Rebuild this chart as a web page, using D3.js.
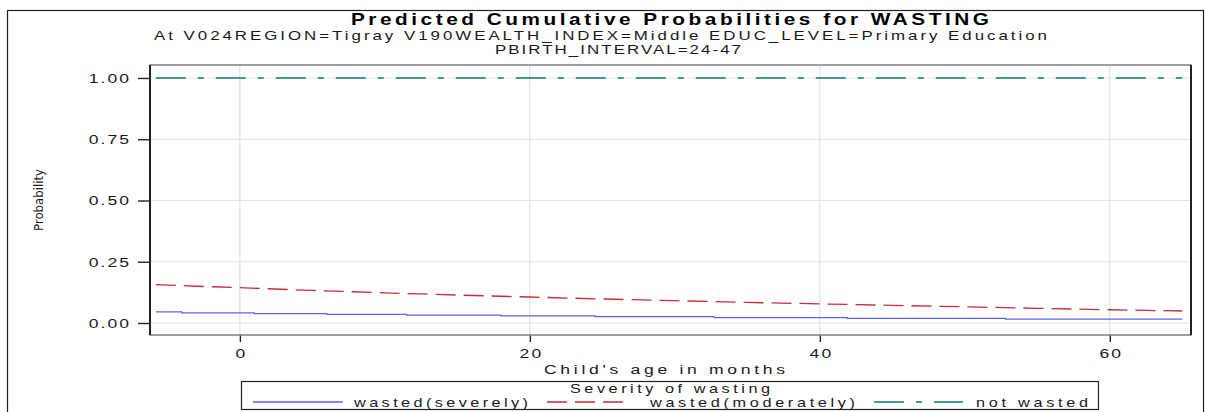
<!DOCTYPE html>
<html>
<head>
<meta charset="utf-8">
<script src="https://cdn.jsdelivr.net/npm/d3@7"></script>
<style>
  html, body { margin: 0; padding: 0; background: #fff; }
  svg { display: block; font-family: "Liberation Sans", Arial, sans-serif; }
</style>
</head>
<body>
<svg id="chart" width="1205" height="412"></svg>
<script>
// data
const ageSevere = [-5.8, -4, 1, 6, 11.5, 18, 24.5, 32.7, 41.9, 52.8, 65];
const probSevere = [0.045, 0.041, 0.038, 0.035, 0.032, 0.029, 0.026, 0.022, 0.019, 0.016, 0.016];

const ageModerate = [-5.8, -3, 0, 5, 10, 15, 20, 25, 30, 35, 40, 45, 50, 55, 60, 65];
const probModerate = [0.157, 0.150, 0.144, 0.133, 0.123, 0.114, 0.106, 0.098, 0.091, 0.084, 0.078, 0.072, 0.066, 0.060, 0.054, 0.049];

const ageNot = [-5.8, 65];
const probNot = [1.0, 1.0];

const xTicks = [0, 20, 40, 60];
const yTicks = [0, 0.25, 0.5, 0.75, 1.0];

const seriesNames = ['wasted(severely)', 'wasted(moderately)', 'not wasted'];
const seriesColors = ['#6262f0', '#cc2a3a', '#0a7f70'];
const seriesDash = [null, '20,8', '30,12,6,12'];

const plot = { left: 150, right: 1191, top: 65, bottom: 335 };
const SX = 1.3; // the SAS font is drawn wider than Arial
const svg = d3.select('#chart');

const x = d3.scaleLinear().domain([-6.2, 65.6]).range([plot.left, plot.right]);
const y = d3.scaleLinear().domain([-0.049, 1.053]).range([plot.bottom, plot.top]);

// text placed from its left edge, widened and stretched to the measured width
function label(px, py, txt, width, size, opts = {}) {
  return svg.append('text')
    .attr('transform', `translate(${px},${py}) scale(${SX},1)`)
    .attr('font-size', size)
    .attr('fill', opts.fill || '#1a1a1a')
    .attr('font-weight', opts.bold ? 'bold' : null)
    .attr('textLength', width / SX)
    .attr('lengthAdjust', 'spacing')
    .text(txt);
}

// outer frame
svg.append('rect')
  .attr('x', 7.5).attr('y', 10.5)
  .attr('width', 1196).attr('height', 420)
  .attr('fill', 'none').attr('stroke', '#222').attr('stroke-width', 1.2);

// titles
label(351, 24.5, 'Predicted Cumulative Probabilities for WASTING', 638, 16, { bold: true, fill: '#000' });
label(154, 40, 'At V024REGION=Tigray V190WEALTH_INDEX=Middle EDUC_LEVEL=Primary Education', 893, 13);
label(495, 53.5, 'PBIRTH_INTERVAL=24-47', 246, 13);

// grid
const grid = svg.append('g');
grid.selectAll('line.gx').data(xTicks).enter().append('line')
  .attr('x1', d => x(d)).attr('x2', d => x(d))
  .attr('y1', plot.top).attr('y2', plot.bottom)
  .attr('stroke', '#dadada').attr('stroke-width', 1);
grid.selectAll('line.gy').data(yTicks).enter().append('line')
  .attr('x1', plot.left).attr('x2', plot.right)
  .attr('y1', d => y(d)).attr('y2', d => y(d))
  .attr('stroke', '#e4e4e4').attr('stroke-width', 1);

// axes
const xAxis = d3.axisBottom(x).tickValues(xTicks).tickSize(7).tickPadding(6).tickFormat(d3.format('d'));
const yAxis = d3.axisLeft(y).tickValues(yTicks).tickSize(12).tickPadding(9).tickFormat(d3.format('.2f'));

const gx = svg.append('g').attr('transform', `translate(0,${plot.bottom})`).call(xAxis);
const gy = svg.append('g').attr('transform', `translate(${plot.left},0)`).call(yAxis);
[gx, gy].forEach(g => {
  g.select('.domain').remove();
  g.selectAll('.tick line').attr('stroke', '#222').attr('stroke-width', 1.4);
  g.selectAll('.tick text')
    .attr('font-family', '"Liberation Sans", Arial, sans-serif')
    .attr('font-size', 13.5).attr('fill', '#1a1a1a').attr('letter-spacing', 1.6)
    .attr('transform', `scale(${SX},1)`);
});
gy.selectAll('.tick text').attr('x', -21 / SX).attr('dx', 1.6);
gx.selectAll('.tick text').attr('dx', 0.8);

// lines
const line = d3.line().x(d => x(d[0])).y(d => y(d[1]));
const stepLine = d3.line().x(d => x(d[0])).y(d => y(d[1])).curve(d3.curveStepAfter);
const g = svg.append('g');

g.append('path')
  .datum(d3.zip(ageNot, probNot))
  .attr('d', line)
  .attr('fill', 'none').attr('stroke', seriesColors[2]).attr('stroke-width', 1.3)
  .attr('stroke-dasharray', seriesDash[2]);

g.append('path')
  .datum(d3.zip(ageModerate, probModerate))
  .attr('d', line)
  .attr('fill', 'none').attr('stroke', seriesColors[1]).attr('stroke-width', 1.3)
  .attr('stroke-dasharray', seriesDash[1]);

g.append('path')
  .datum(d3.zip(ageSevere, probSevere))
  .attr('d', stepLine)
  .attr('fill', 'none').attr('stroke', seriesColors[0]).attr('stroke-width', 1.2);

// plot frame
svg.append('rect')
  .attr('x', plot.left).attr('y', plot.top)
  .attr('width', plot.right - plot.left).attr('height', plot.bottom - plot.top)
  .attr('fill', 'none').attr('stroke', '#777').attr('stroke-width', 1.4);
svg.append('line')
  .attr('x1', plot.left).attr('x2', plot.left)
  .attr('y1', plot.top).attr('y2', plot.bottom)
  .attr('stroke', '#222').attr('stroke-width', 2);
svg.append('line')
  .attr('x1', plot.right).attr('x2', plot.right)
  .attr('y1', plot.top).attr('y2', plot.bottom)
  .attr('stroke', '#222').attr('stroke-width', 2);

// axis titles
label(544, 374, "Child's age in months", 241, 13.5);

svg.append('text')
  .attr('transform', `translate(43,${(plot.top + plot.bottom) / 2}) rotate(-90)`)
  .attr('text-anchor', 'middle')
  .attr('font-family', '"Liberation Sans Narrow", "DejaVu Sans Condensed", Arial, sans-serif')
  .attr('font-size', 13).attr('fill', '#1a1a1a')
  .text('Probability');

// legend
svg.append('rect')
  .attr('x', 241.5).attr('y', 381.5)
  .attr('width', 857).attr('height', 28)
  .attr('fill', '#fff').attr('stroke', '#222').attr('stroke-width', 1.2);
label(570, 392.5, 'Severity of wasting', 200, 12.5);

const legendItems = [
  { x0: 253, x1: 343, tx: 354, tw: 174 },
  { x0: 547, x1: 631, tx: 650, tw: 205 },
  { x0: 874, x1: 963, tx: 976, tw: 112 }
];
legendItems.forEach((it, i) => {
  svg.append('line')
    .attr('x1', it.x0).attr('x2', it.x1)
    .attr('y1', 402).attr('y2', 402)
    .attr('stroke', seriesColors[i]).attr('stroke-width', 1.3)
    .attr('stroke-dasharray', seriesDash[i]);
  label(it.tx, 406.5, seriesNames[i], it.tw, 12.5);
});
</script>
</body>
</html>
